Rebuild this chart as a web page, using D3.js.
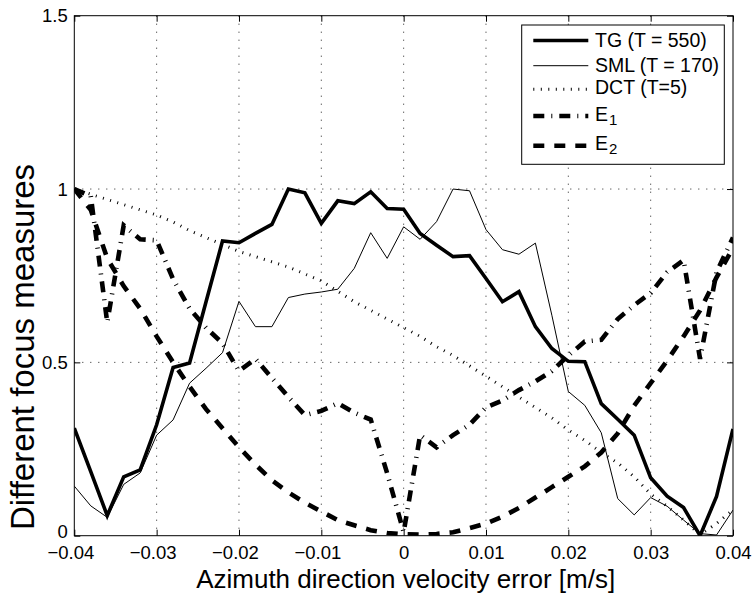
<!DOCTYPE html>
<html><head><meta charset="utf-8">
<script src="https://cdn.jsdelivr.net/npm/d3@7"></script>
<style>
body{margin:0;background:#fff}
svg{display:block}
text{font-family:"Liberation Sans",Arial,Helvetica,sans-serif;fill:#000}
</style>
</head><body>
<svg id="c" width="754" height="594"></svg>
<script>
// ---------------- data ----------------
const xVals = [-0.040,-0.038,-0.036,-0.034,-0.032,-0.030,-0.028,-0.026,-0.024,-0.022,
  -0.020,-0.018,-0.016,-0.014,-0.012,-0.010,-0.008,-0.006,-0.004,-0.002,
  0.000,0.002,0.004,0.006,0.008,0.010,0.012,0.014,0.016,0.018,
  0.020,0.022,0.024,0.026,0.028,0.030,0.032,0.034,0.036,0.038,0.040];

const tgVals = [0.31,0.185,0.058,0.17,0.19,0.32,0.485,0.498,0.675,0.85,
  0.845,0.872,0.898,1.0,0.989,0.901,0.966,0.958,0.992,0.944,
  0.942,0.872,0.838,0.805,0.808,0.742,0.675,0.704,0.603,0.54,
  0.503,0.502,0.381,0.336,0.29,0.167,0.114,0.081,0.0,0.113,0.308];

const smlVals = [0.143,0.086,0.053,0.148,0.181,0.29,0.334,0.44,0.483,0.528,
  0.676,0.603,0.603,0.687,0.697,0.703,0.711,0.771,0.874,0.80,
  0.891,0.855,0.906,1.0,0.995,0.883,0.825,0.812,0.844,0.636,
  0.416,0.376,0.297,0.107,0.06,0.11,0.085,0.045,0.006,0.002,0.074];

const dctVals = [1.0,0.985,0.97,0.955,0.94,0.925,0.905,0.88,0.86,0.84,
  0.82,0.805,0.79,0.775,0.755,0.735,0.705,0.675,0.65,0.625,
  0.60,0.575,0.545,0.52,0.49,0.46,0.43,0.40,0.37,0.34,
  0.305,0.275,0.24,0.21,0.17,0.12,0.085,0.045,0.003,0.035,0.075];

const e1Vals = [1.0,0.98,0.615,0.895,0.855,0.852,0.74,0.655,0.60,0.555,
  0.475,0.51,0.455,0.40,0.348,0.36,0.382,0.355,0.335,0.18,
  0.01,0.29,0.255,0.29,0.32,0.37,0.39,0.42,0.445,0.475,
  0.52,0.56,0.565,0.625,0.665,0.70,0.76,0.795,0.51,0.76,0.86];

const e2Vals = [1.0,0.94,0.80,0.72,0.655,0.575,0.50,0.43,0.365,0.31,
  0.255,0.205,0.16,0.125,0.095,0.07,0.045,0.03,0.016,0.008,
  0.004,0.003,0.005,0.01,0.022,0.035,0.055,0.08,0.11,0.14,
  0.17,0.20,0.24,0.295,0.375,0.44,0.505,0.575,0.65,0.745,0.83];

const xTicks = [-0.04,-0.03,-0.02,-0.01,0,0.01,0.02,0.03,0.04];
const xTickLabels = ["\u22120.04","\u22120.03","\u22120.02","\u22120.01","0","0.01","0.02","0.03","0.04"];
const yTicks = [0,0.5,1,1.5];
const yTickLabels = ["0","0.5","1","1.5"];

const seriesNames = ["TG (T = 550)","SML (T = 170)","DCT (T=5)","E","E"];
const seriesSubs = ["","","","1","2"];
const xTitle = "Azimuth direction velocity error [m/s]";
const yTitle = "Different focus measures";

// ---------------- styles ----------------
const styles = [
  {w:3.6, dash:null},
  {w:1.0, dash:null},
  {w:3.0, dash:"1,6.5"},
  {w:4.6, dash:"11,7,1,7"},
  {w:4.6, dash:"11,10"}
];
const allSeries = [tgVals, smlVals, dctVals, e1Vals, e2Vals];

// ---------------- layout ----------------
const L = 74.3, R = 733, T = 15.7, B = 535.7;
const x = d3.scaleLinear().domain([-0.04,0.04]).range([L,R]);
const y = d3.scaleLinear().domain([0,1.5]).range([B,T]);

const svg = d3.select("#c");

svg.append("defs").append("clipPath").attr("id","clip")
  .append("rect").attr("x",L).attr("y",T).attr("width",R-L).attr("height",B-T);

// grid
const grid = svg.append("g").attr("stroke","#222").attr("stroke-width",1).attr("stroke-dasharray","1,7");
grid.selectAll("line.v").data(xTicks.slice(1,-1)).join("line").attr("class","v")
  .attr("x1",d=>x(d)).attr("x2",d=>x(d)).attr("y1",T).attr("y2",B);
grid.selectAll("line.h").data(yTicks.slice(1,-1)).join("line").attr("class","h")
  .attr("x1",L).attr("x2",R).attr("y1",d=>y(d)).attr("y2",d=>y(d));

// axes
const fs = 18.5;
const gB = svg.append("g").attr("transform",`translate(0,${B})`)
  .call(d3.axisBottom(x).tickValues(xTicks).tickFormat((d,i)=>xTickLabels[i]).tickSizeInner(-6).tickSizeOuter(0).tickPadding(10.2));
const gL = svg.append("g").attr("transform",`translate(${L},0)`)
  .call(d3.axisLeft(y).tickValues(yTicks).tickFormat((d,i)=>yTickLabels[i]).tickSizeInner(-6).tickSizeOuter(0).tickPadding(6.5));
const gT = svg.append("g").attr("transform",`translate(0,${T})`)
  .call(d3.axisTop(x).tickValues(xTicks).tickFormat("").tickSizeInner(-6).tickSizeOuter(0));
const gR = svg.append("g").attr("transform",`translate(${R},0)`)
  .call(d3.axisRight(y).tickValues(yTicks).tickFormat("").tickSizeInner(-6).tickSizeOuter(0));
[gB,gL,gT,gR].forEach(g=>{
  g.select(".domain").remove();
  g.selectAll(".tick line").attr("stroke","#000");
  g.selectAll("text").attr("font-size",fs).attr("font-family",'"Liberation Sans",Arial,sans-serif').attr("fill","#000");
});
// negative labels in the reference sit a little left of their tick
gB.selectAll(".tick text").attr("dx",(d,i)=>xTickLabels[i].startsWith("\u2212") ? -4 : 0);
// lowest y label raised slightly so it clears the first x label
gL.selectAll(".tick text").attr("dy",(d,i)=>i===0 ? "0.1em" : "0.34em");

// data lines
const line = d3.line().x((d,i)=>x(xVals[i])).y(d=>y(d));
const dataG = svg.append("g").attr("clip-path","url(#clip)");
allSeries.forEach((vals,k)=>{
  dataG.append("path").datum(vals).attr("d",line)
    .attr("fill","none").attr("stroke","#000")
    .attr("stroke-width",styles[k].w)
    .attr("stroke-linejoin","miter")
    .attr("stroke-dasharray",styles[k].dash);
});

// frame
svg.append("rect").attr("x",L).attr("y",T).attr("width",R-L).attr("height",B-T)
  .attr("fill","none").attr("stroke","#000").attr("stroke-width",1);

// titles
svg.append("text").attr("x",(L+R)/2+2).attr("y",587.5).attr("text-anchor","middle")
  .attr("font-size",26).text(xTitle);
svg.append("text").attr("transform","translate(34,347) rotate(-90)").attr("text-anchor","middle")
  .attr("font-size",33).text(yTitle);

// legend
const lg = svg.append("g");
lg.append("rect").attr("x",521.7).attr("y",25).attr("width",202.6).attr("height",139.3)
  .attr("fill","#fff").attr("stroke","#000").attr("stroke-width",1);
const lineY = [40.5,65.7,89.3,116,145.7];
const textY = [46.7,71.5,94,120.7,150];
seriesNames.forEach((nm,k)=>{
  lg.append("line").attr("x1",533.3).attr("x2",588.3).attr("y1",lineY[k]).attr("y2",lineY[k])
    .attr("stroke","#000").attr("stroke-width",styles[k].w).attr("stroke-dasharray",styles[k].dash);
  const t = lg.append("text").attr("x",595).attr("y",textY[k]).attr("font-size",19.5).text(nm);
  if (seriesSubs[k]) {
    t.append("tspan").attr("font-size",15).attr("dy",4).attr("dx",1).text(seriesSubs[k]);
  }
});
</script>
</body></html>
